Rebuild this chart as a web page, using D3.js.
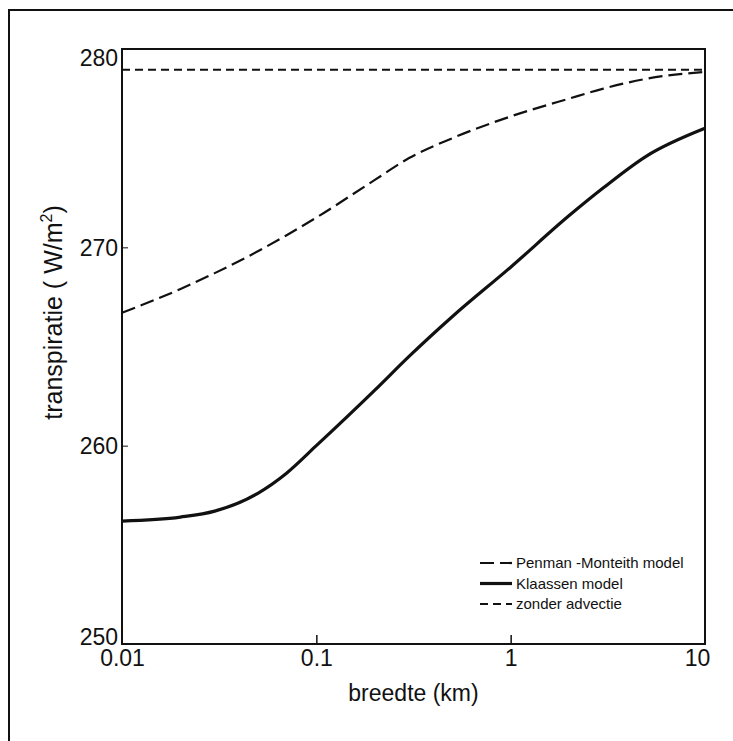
<!DOCTYPE html>
<html lang="nl">
<head>
<meta charset="utf-8">
<script src="https://d3js.org/d3.v7.min.js"></script>
<style>
  body { margin: 0; background: #fff; }
  svg text { font-family: "Liberation Sans", Arial, sans-serif; fill: #111; }
</style>
</head>
<body>
<svg id="chart" width="733" height="741"></svg>
<script>
// breedte (km) and transpiratie (W/m2)
const breedte = [0.01, 0.02, 0.03, 0.05, 0.07, 0.1, 0.2, 0.3, 0.5, 1, 2, 3, 5, 10];
const penman = [266.7, 267.9, 268.7, 269.8, 270.6, 271.5, 273.4, 274.5, 275.5, 276.6, 277.5, 278.0, 278.5, 278.85];
const klaassen = [256.2, 256.4, 256.7, 257.6, 258.6, 260.0, 262.8, 264.5, 266.5, 269.0, 271.6, 273.0, 274.6, 276.0];
const zonder = [278.95, 278.95, 278.95, 278.95, 278.95, 278.95, 278.95, 278.95, 278.95, 278.95, 278.95, 278.95, 278.95, 278.95];

const xTicks = [0.01, 0.1, 1, 10];
const xTickLabels = ["0.01", "0.1", "1", "10"];
const yTicks = [250, 260, 270, 280];

const legendItems = [
  { label: "Penman -Monteith model", dash: "14,6", width: 2.2 },
  { label: "Klaassen model", dash: null, width: 3.2 },
  { label: "zonder advectie", dash: "8,5", width: 2 }
];

const margin = { left: 122, right: 28, top: 49, bottom: 97 };
const W = 733, H = 741;
const svg = d3.select("#chart");

// outer frame (cut off on the right and bottom in the scan)
svg.append("rect")
  .attr("x", 9).attr("y", 10)
  .attr("width", 740).attr("height", 750)
  .attr("fill", "none").attr("stroke", "#111").attr("stroke-width", 2);

const x = d3.scaleLog().domain([0.01, 10]).range([margin.left, W - margin.right]);
const y = d3.scaleLinear().domain([250, 280]).range([H - margin.bottom, margin.top]);

// plot box
svg.append("rect")
  .attr("x", x(0.01)).attr("y", y(280))
  .attr("width", x(10) - x(0.01)).attr("height", y(250) - y(280))
  .attr("fill", "none").attr("stroke", "#111").attr("stroke-width", 2);

// x axis: small inward ticks, labels below
const xAxis = d3.axisBottom(x).tickValues(xTicks)
  .tickSize(-9).tickPadding(5)
  .tickFormat((d, i) => xTickLabels[i]);
const gx = svg.append("g").attr("transform", `translate(0,${y(250)})`).call(xAxis);
gx.select(".domain").remove();
gx.selectAll("line").attr("stroke", "#111").attr("stroke-width", 1.5)
  .filter(d => d === 0.01 || d === 10).remove();
gx.selectAll("text").attr("font-size", 23).attr("dy", "0.72em");
gx.selectAll("text").filter(d => d === 10).attr("dx", -8);

const yAxis = d3.axisLeft(y).tickValues(yTicks).tickSize(-6).tickPadding(4);
const gy = svg.append("g").attr("transform", `translate(${x(0.01)},0)`).call(yAxis);
gy.select(".domain").remove();
gy.selectAll("line").attr("stroke", "#111").attr("stroke-width", 1)
  .filter(d => d === 250 || d === 280).remove();
gy.selectAll("text").attr("font-size", 23).attr("dy", "0.35em");
gy.selectAll("text").filter(d => d === 280).attr("dy", "0.7em");
gy.selectAll("text").filter(d => d === 250).attr("dy", "0em");

// axis titles
svg.append("text")
  .attr("x", (x(0.01) + x(10)) / 2).attr("y", 701)
  .attr("text-anchor", "middle").attr("font-size", 23)
  .text("breedte (km)");

const yt = svg.append("text")
  .attr("transform", `translate(62,${(y(250) + y(280)) / 2 - 34}) rotate(-90)`)
  .attr("text-anchor", "middle").attr("font-size", 25);
yt.append("tspan").text("transpiratie ( W/m");
yt.append("tspan").attr("dy", -10).attr("font-size", 16).text("2");
yt.append("tspan").attr("dy", 10).text(")");

// curves
const line = vals => d3.line()
  .x((d, i) => x(breedte[i]))
  .y(d => y(d))
  .curve(d3.curveMonotoneX)(vals);

svg.append("path").attr("d", line(zonder))
  .attr("fill", "none").attr("stroke", "#111")
  .attr("stroke-width", legendItems[2].width).attr("stroke-dasharray", legendItems[2].dash);
svg.append("path").attr("d", line(penman))
  .attr("fill", "none").attr("stroke", "#111")
  .attr("stroke-width", legendItems[0].width).attr("stroke-dasharray", legendItems[0].dash);
svg.append("path").attr("d", line(klaassen))
  .attr("fill", "none").attr("stroke", "#111")
  .attr("stroke-width", legendItems[1].width);

// legend
const lg = svg.append("g").attr("transform", "translate(480,563)");
legendItems.forEach((it, i) => {
  const row = lg.append("g").attr("transform", `translate(0,${i * 20.5})`);
  row.append("line").attr("x1", 0).attr("x2", 32).attr("y1", 0).attr("y2", 0)
    .attr("stroke", "#111").attr("stroke-width", it.width)
    .attr("stroke-dasharray", it.dash);
  row.append("text").attr("x", 36).attr("dy", "0.35em")
    .attr("font-size", 15).text(it.label);
});
</script>
</body>
</html>
